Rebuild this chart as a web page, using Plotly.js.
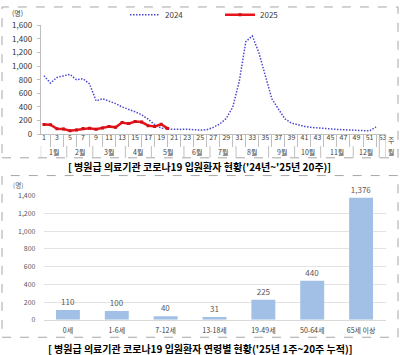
<!DOCTYPE html>
<html><head><meta charset="utf-8">
<script src="https://cdn.plot.ly/plotly-3.0.1.min.js"></script>
<style>html,body{margin:0;padding:0;background:#fff}#c{width:400px;height:355px}</style>
</head><body><div id="c"></div><script>
const weeks = [1,2,3,4,5,6,7,8,9,10,11,12,13,14,15,16,17,18,19,20,21,22,23,24,25,26,27,28,29,30,31,32,33,34,35,36,37,38,39,40,41,42,43,44,45,46,47,48,49,50,51,52,53];
const patients2024 = [860,750,835,855,880,800,815,740,490,520,490,450,400,370,330,285,220,140,90,75,70,70,72,65,60,65,100,150,230,400,780,1360,1445,1200,850,520,370,226,163,134,114,100,90,80,75,70,65,60,55,55,48,105];
const patients2025 = [143,140,80,75,50,62,82,88,72,90,112,100,170,155,185,178,125,112,145,85];
const monthNames = ['1월','2월','3월','4월','5월','6월','7월','8월','9월','10월','11월','12월'];
const monthFirstWeek = [1,5,9,14,18,23,27,31,36,40,44,49];
const monthLastWeek = [4,8,13,17,22,26,30,35,39,43,48,52];
const ageGroups = ['0세','1-6세','7-12세','13-18세','19-49세','50-64세','65세 이상'];
const ageCounts = [110,100,40,31,225,440,1376];

const W = 400, H = 355;
const px = x => x / W;
const py = y => 1 - y / H;
const FONT = '"Noto Sans CJK KR", "Noto Sans", sans-serif';

const traces = [
  {x: weeks.slice(0, patients2024.length), y: patients2024, type: 'scatter', mode: 'lines', name: '2024',
   line: {color: '#4b47d1', width: 1.5, dash: '1.5px,1.5px'}, xaxis: 'x', yaxis: 'y'},
  {x: weeks.slice(0, patients2025.length), y: patients2025, type: 'scatter', mode: 'lines+markers', name: '2025',
   line: {color: '#e8141c', width: 2.5}, marker: {symbol: 'square', size: 3, color: '#d01018'}, xaxis: 'x', yaxis: 'y'},
  {x: ageGroups, y: ageCounts, type: 'bar', showlegend: false, width: 0.49,
   marker: {color: '#a2c0e6', line: {width: 0}},
   text: ageCounts.map(v => v.toLocaleString('en-US')), textposition: 'outside', cliponaxis: false,
   textfont: {size: 8, color: '#595959', family: FONT}, xaxis: 'x2', yaxis: 'y2', hoverinfo: 'skip'}
];

const shapes = [];
shapes.push({type: 'rect', xref: 'paper', yref: 'paper', x0: px(2), x1: px(398), y0: py(155), y1: py(2),
  line: {color: '#a6a6a6', width: 1, dash: 'dash'}});
shapes.push({type: 'rect', xref: 'paper', yref: 'paper', x0: px(2), x1: px(398), y0: py(337), y1: py(173),
  line: {color: '#a6a6a6', width: 1, dash: 'dash'}});
monthFirstWeek.forEach(w => {
  shapes.push({type: 'line', xref: 'x', yref: 'paper', x0: w - 0.5, x1: w - 0.5, y0: py(155), y1: py(143),
    line: {color: '#bfbfbf', width: 1}});
});
[monthLastWeek[monthLastWeek.length - 1] + 0.5, weeks[weeks.length - 1] + 0.5].forEach(b => {
  shapes.push({type: 'line', xref: 'x', yref: 'paper', x0: b, x1: b, y0: py(155), y1: py(131),
    line: {color: '#bfbfbf', width: 1}});
});

function ann(text, x, y, size, color, xref) {
  return {text: text, x: x, y: y, xref: xref || 'paper', yref: 'paper', showarrow: false,
    xanchor: 'center', yanchor: 'middle', font: {size: size, color: color, family: FONT}};
}
const annotations = [];
monthNames.forEach((m, i) => {
  annotations.push(ann(m, (monthFirstWeek[i] + monthLastWeek[i]) / 2, py(149), 7, '#404040', 'x'));
});
annotations.push(ann('주', px(391), py(137), 7, '#404040'));
annotations.push(ann('월', px(391), py(149), 7, '#404040'));
annotations.push(ann('(명)', px(17), py(8), 7, '#404040'));
annotations.push(ann('(명)', px(18), py(183), 6.5, '#595959'));
annotations.push(ann("<b>[ 병원급 의료기관 코로나19 입원환자 현황('24년~'25년 20주)]</b>", px(199), py(164), 10, '#000'));
annotations.push(ann("<b>[ 병원급 의료기관 코로나19 입원환자 연령별 현황('25년 1주~20주 누적)]</b>", px(200), py(348), 10, '#000'));

const oddWeeks = weeks.filter(w => w % 2 === 1);
const evenWeeks = weeks.filter(w => w % 2 === 0);

const layout = {
  width: W, height: H, margin: {l: 0, r: 0, t: 0, b: 0},
  paper_bgcolor: '#fff', plot_bgcolor: 'rgba(0,0,0,0)',
  font: {family: FONT, color: '#404040'},
  showlegend: true,
  legend: {orientation: 'h', x: px(220), xanchor: 'center', y: py(10), yanchor: 'middle',
    font: {size: 8, color: '#404040', family: FONT}, itemwidth: 30, entrywidth: 50, entrywidthmode: 'pixels',
    bgcolor: 'rgba(0,0,0,0)'},
  xaxis: {domain: [px(40.7), px(385.8)], anchor: 'y', range: [0.5, 53.5], type: 'linear',
    tickmode: 'array', tickvals: oddWeeks, ticktext: oddWeeks.map(String), ticks: '',
    tickfont: {size: 7, color: '#404040', family: FONT}, ticklabelstandoff: -4,
    minor: {tickmode: 'array', tickvals: evenWeeks, ticks: 'outside', ticklen: 12, tickcolor: '#bfbfbf', tickwidth: 1, showgrid: false},
    showline: true, linecolor: '#bfbfbf', linewidth: 1, showgrid: false, zeroline: false, fixedrange: true},
  yaxis: {domain: [py(131), py(20.7)], anchor: 'x', range: [0, 1600], dtick: 200, tickformat: ',',
    ticks: 'outside', ticklen: 3, tickcolor: '#bfbfbf', showline: true, linecolor: '#bfbfbf',
    tickfont: {size: 8, color: '#333', family: FONT}, ticklabelstandoff: 3,
    showgrid: false, zeroline: false, fixedrange: true},
  xaxis2: {domain: [px(43.5), px(385.5)], anchor: 'y2', type: 'category', ticks: '',
    tickfont: {size: 7, color: '#404040', family: FONT}, ticklabelstandoff: 4,
    showline: true, linecolor: '#d9d9d9', showgrid: false, zeroline: false, fixedrange: true},
  yaxis2: {domain: [py(319.3), py(193.3)], anchor: 'x2', range: [0, 1400], dtick: 200, tickformat: ',',
    ticks: '', showline: false, showgrid: true, gridcolor: '#e3e3e3', gridwidth: 1,
    tickfont: {size: 7, color: '#595959', family: FONT}, ticklabelstandoff: 7,
    zeroline: false, fixedrange: true},
  shapes: shapes, annotations: annotations
};

Plotly.newPlot('c', traces, layout, {displayModeBar: false, staticPlot: true});
</script></body></html>
